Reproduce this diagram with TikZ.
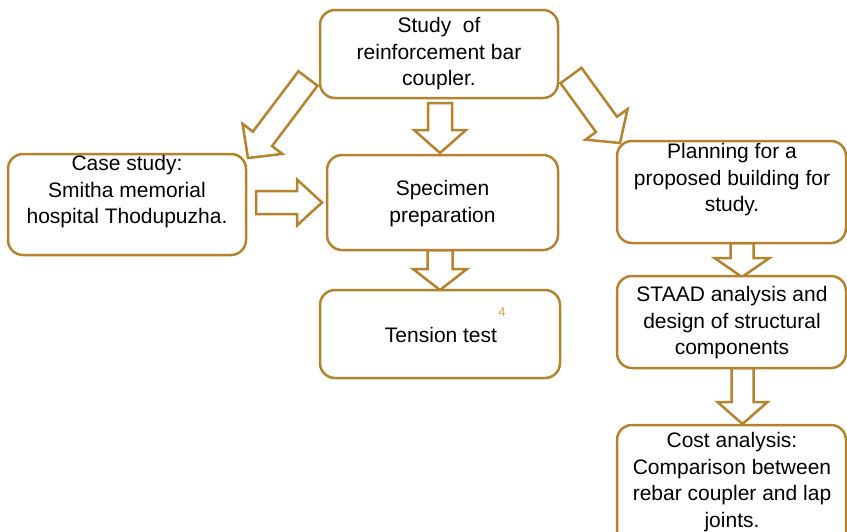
\documentclass[tikz,border=0pt]{standalone}
\usepackage{fontspec}
\setmainfont{Liberation Sans}
\usetikzlibrary{calc}
\definecolor{gold}{HTML}{B5832D}
\definecolor{num}{HTML}{E0A040}
\tikzset{
  box/.style={draw=gold, line width=2.5pt, fill=white, rounded corners=15pt, inner sep=0pt},
  txt/.style={align=center, inner sep=0pt, font=\fontsize{21}{26.5}\selectfont, text=black},
  barr/.style={draw=gold, line width=2.5pt, fill=white, line join=miter},
}
% #1 name, #2 tail, #3 tip, #4 shaft half width, #5 head half width, #6 head length
\newcommand\blockarr[6]{%
  \coordinate (#1t) at #2;
  \coordinate (#1p) at #3;
  \coordinate (#1n) at ($(#1p)!#6!(#1t)$);
  \draw[barr] ($(#1t)!#4!90:(#1p)$) -- ($(#1n)!#4!-90:(#1t)$) -- ($(#1n)!#5!-90:(#1t)$)
    -- (#1p) -- ($(#1n)!#5!90:(#1t)$) -- ($(#1n)!#4!90:(#1t)$) -- ($(#1t)!#4!-90:(#1p)$) -- cycle;}
\begin{document}
\begin{tikzpicture}[x=1pt,y=-1pt]
\useasboundingbox (0,0) rectangle (847,531);
\clip (0,0) rectangle (847,531);
% block arrows
\blockarr{aA}{(308,78.5)}{(248,158)}{12pt}{25pt}{24pt}
\blockarr{aB}{(571,75.5)}{(620,143)}{13pt}{26pt}{23pt}
\blockarr{aC}{(440,103)}{(440,153)}{12pt}{26pt}{23pt}
\blockarr{aD}{(440,250)}{(440,290)}{12.5pt}{27pt}{21pt}
\blockarr{aE}{(256,202.5)}{(322,202.5)}{11.5pt}{23pt}{25pt}
\blockarr{aF}{(742,243)}{(742,277)}{11.5pt}{27.5pt}{19pt}
\blockarr{aG}{(742.5,368)}{(742.5,424)}{11pt}{25pt}{22pt}
% boxes
\node[box, minimum width=238pt, minimum height=88pt] (top) at (439,54) {};
\node[box, minimum width=238pt, minimum height=101pt] (case) at (127,204.5) {};
\node[box, minimum width=231pt, minimum height=95pt] (spec) at (442.5,202.5) {};
\node[box, minimum width=240pt, minimum height=88pt] (tens) at (440,334) {};
\node[box, minimum width=229pt, minimum height=102pt] (plan) at (731.5,192) {};
\node[box, minimum width=229pt, minimum height=92pt] (staad) at (731.5,322) {};
\node[box, minimum width=229pt, minimum height=135pt] (cost) at (731.5,492.5) {};
% texts
\node[txt] (ttop) at (439,54) {Study\ \ of\\reinforcement bar\\coupler.};
\node[txt] (tcase) at (127,192) {Case study:\\Smitha memorial\\hospital Thodupuzha.};
\node[txt] (tspec) at (442.5,203.5) {Specimen\\preparation};
\node[txt] (ttens) at (441,335) {Tension test};
\node[text=num, font=\fontsize{13}{14}\selectfont, inner sep=0pt] (four) at (502,312) {4};
\node[txt] (tplan) at (732,180) {Planning for a\\proposed building for\\study.};
\node[txt] (tstaad) at (732,323) {STAAD analysis and\\design of structural\\components};
\node[txt] (tcost) at (732,482) {Cost analysis:\\Comparison between\\rebar coupler and lap\\joints.};
\end{tikzpicture}
\end{document}
